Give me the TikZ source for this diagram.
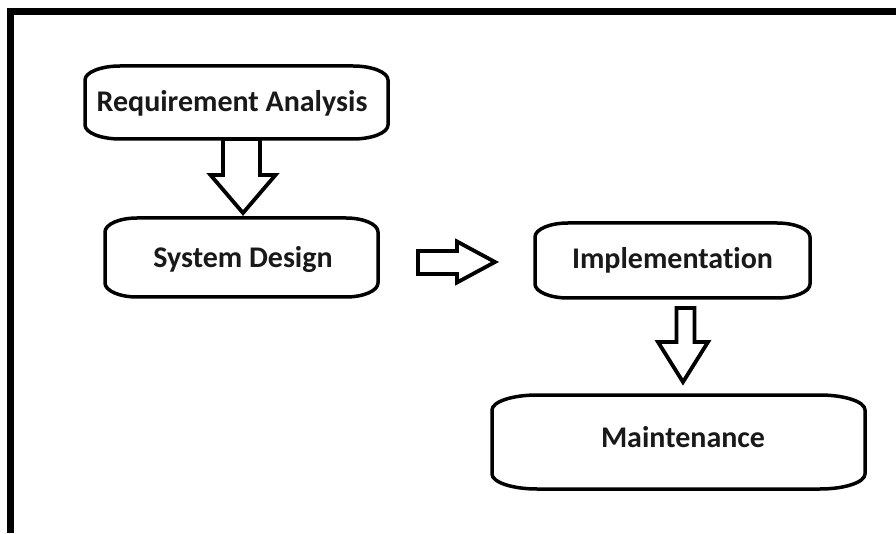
\documentclass[tikz,border=0pt]{standalone}
\usepackage{fontspec}
\setmainfont{Carlito}[Ligatures=NoCommon]
\usetikzlibrary{calc}

\tikzset{
  boxline/.style={line width=3.5pt, line join=round},
  stage/.style={inner sep=0pt, outer sep=0pt},
  lbl/.style={anchor=base, inner sep=0pt, font=\fontsize{30}{34}\selectfont\bfseries, text=black!90},
  arrowline/.style={line width=3.8pt, line join=miter, fill=white},
  % block arrow pointing down: shaft half width, head half width, head length
  downblock/.style n args={3}{to path={
    let \p1=(\tikztostart), \p2=(\tikztotarget) in
    (\x1-#1,\y1) -- (\x1+#1,\y1) -- (\x1+#1,\y2+#3) -- (\x2+#2,\y2+#3)
    -- (\x2,\y2) -- (\x2-#2,\y2+#3) -- (\x1-#1,\y2+#3) -- cycle}},
  % block arrow pointing right: shaft half width, head half width, head length
  rightblock/.style n args={3}{to path={
    let \p1=(\tikztostart), \p2=(\tikztotarget) in
    (\x1,\y1+#1) -- (\x2-#3,\y1+#1) -- (\x2-#3,\y2+#2) -- (\x2,\y2)
    -- (\x2-#3,\y2-#2) -- (\x2-#3,\y1-#1) -- (\x1,\y1-#1) -- cycle}},
}

% outline of a stage box: straight sides with elliptical corners
\newcommand\stageoutline[3]{%
  \draw[boxline]
    ($(#1.north west)+(#2,0)$) -- ($(#1.north east)+(-#2,0)$)
    .. controls ($(#1.north east)+(-0.45*#2,0)$) and ($(#1.north east)+(0,-0.45*#3)$) .. ($(#1.north east)+(0,-#3)$)
    -- ($(#1.south east)+(0,#3)$)
    .. controls ($(#1.south east)+(0,0.45*#3)$) and ($(#1.south east)+(-0.45*#2,0)$) .. ($(#1.south east)+(-#2,0)$)
    -- ($(#1.south west)+(#2,0)$)
    .. controls ($(#1.south west)+(0.45*#2,0)$) and ($(#1.south west)+(0,0.45*#3)$) .. ($(#1.south west)+(0,#3)$)
    -- ($(#1.north west)+(0,-#3)$)
    .. controls ($(#1.north west)+(0,-0.45*#3)$) and ($(#1.north west)+(0.45*#2,0)$) .. cycle;%
}

\begin{document}
\begin{tikzpicture}[x=1pt, y=1pt]
  \useasboundingbox (0,0) rectangle (896,533);
  \fill[white] (0,0) rectangle (896,533);

  % frame along the top and left
  \draw[line width=7pt, line join=miter] (10.5,0) -- (10.5,521.5) -- (896,521.5);

  % stage boxes
  \node[stage, minimum width=303pt, minimum height=73pt] (ra) at (236.5,430.5) {};
  \node[stage, minimum width=273pt, minimum height=79pt] (sd) at (241.5,275.5) {};
  \node[stage, minimum width=275pt, minimum height=75pt] (im) at (672.5,272.5) {};
  \node[stage, minimum width=373pt, minimum height=94pt] (mt) at (678.5,91) {};

  \stageoutline{ra}{35}{14}
  \stageoutline{sd}{32}{14}
  \stageoutline{im}{33}{14}
  \stageoutline{mt}{45}{15}

  % stage labels
  \node[lbl] (ra-t) at (232,421) {Requirement Analysis};
  \node[lbl] (sd-t) at (243,265) {System Design};
  \node[lbl] (im-t) at (672.5,264.5) {Implementation};
  \node[lbl] (mt-t) at (683,86) {Maintenance};

  % tips of the block arrows
  \coordinate (tip1) at (243,320);
  \coordinate (tip2) at (495,271);
  \coordinate (tip3) at (683,151);

  % block arrows between the stages
  \draw[arrowline, downblock={18.5}{32.5}{38}] ([xshift=5pt]ra.south) to (tip1);
  \draw[arrowline, rightblock={11.5}{20.5}{38}] ([shift={(40pt,-5pt)}]sd.east) to (tip2);
  \draw[arrowline, downblock={9}{25}{40}] ([shift={(13pt,-10pt)}]im.south) to (tip3);
\end{tikzpicture}
\end{document}
